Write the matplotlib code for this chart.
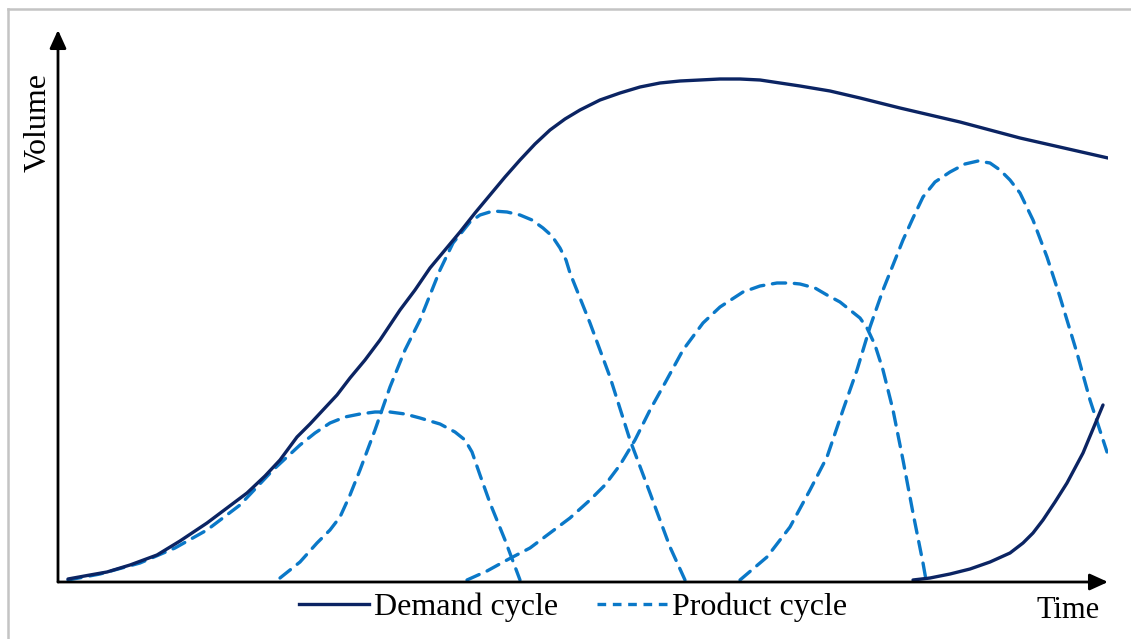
import matplotlib
matplotlib.use("Agg")
import matplotlib.pyplot as plt
from matplotlib.lines import Line2D

# ---- data (time, volume) ----
demand_t = [10, 32, 49, 72, 99, 122, 149, 169, 189, 207, 222, 239, 252, 265, 279, 292,
            307, 322, 342, 357, 372, 387, 402, 417, 432, 447, 462, 477, 492, 507, 522,
            542, 562, 582, 602, 622, 642, 662, 682, 702, 722, 742, 772, 802, 842, 902,
            962, 1050]
demand_v = [3, 7, 10, 17, 27, 41, 59, 74, 89, 106, 122, 145, 158, 172, 187, 204,
            222, 242, 272, 292, 314, 332, 350, 369, 387, 405, 422, 438, 452, 463, 472,
            482, 489, 495, 499, 501, 502, 503, 503, 502, 499, 496, 491, 484, 474, 460,
            444, 424]

demand2_t = [855, 872, 892, 912, 932, 952, 965, 975, 985, 997, 1009, 1025, 1045]
demand2_v = [2, 4, 8, 13, 20, 29, 39, 49, 62, 80, 99, 129, 177]

prod1_t = [10, 42, 82, 117, 149, 182, 215, 242, 257, 272, 287, 302, 317, 332, 347,
           362, 382, 397, 407, 414, 422, 432, 447, 462]
prod1_v = [2, 8, 19, 34, 52, 77, 112, 137, 149, 159, 165, 168, 170, 170, 168,
           164, 158, 150, 142, 130, 107, 79, 42, 2]

prod2_t = [222, 242, 259, 272, 282, 292, 302, 317, 332, 347, 362, 382, 395, 404, 412,
           422, 435, 449, 462, 474, 485, 494, 502, 508, 512, 532, 552, 572, 592, 612, 627]
prod2_v = [4, 20, 39, 52, 65, 87, 112, 152, 195, 232, 262, 312, 339, 350, 360,
           367, 371, 370, 367, 362, 354, 346, 334, 322, 309, 259, 205, 142, 89, 35, 2]

prod3_t = [409, 429, 449, 472, 492, 512, 532, 547, 562, 577, 592, 607, 625, 645, 662,
           685, 702, 719, 732, 742, 757, 769, 782, 792, 802, 809, 817, 825, 835, 845,
           855, 865, 868]
prod3_v = [2, 11, 22, 34, 49, 64, 82, 97, 117, 142, 172, 199, 232, 259, 275,
           290, 296, 299, 299, 298, 294, 287, 280, 272, 264, 254, 237, 212, 172, 122,
           69, 19, 2]

prod4_t = [682, 709, 732, 752, 769, 785, 799, 812, 825, 845, 855, 865, 877, 892, 907,
           920, 932, 942, 952, 962, 975, 989, 1002, 1019, 1032, 1049]
prod4_v = [2, 25, 55, 92, 125, 172, 212, 255, 292, 342, 364, 385, 400, 410, 418,
           421, 419, 412, 402, 389, 362, 325, 285, 229, 182, 130]

legend_labels = ["Demand cycle", "Product cycle"]
x_label = "Time"
y_label = "Volume"

NAVY = "#0b2463"
BLUE = "#0a78c8"

W, H = 1131, 639
fig = plt.figure(figsize=(W / 100, H / 100), dpi=100)
fig.patch.set_facecolor("white")

# axes placed so the axis lines sit at the reference positions
x0, x1 = 58, 1108
y0, y1 = 582, 30
ax = fig.add_axes([x0 / W, (H - y0) / H, (x1 - x0) / W, (y0 - y1) / H])
ax.set_xlim(0, x1 - x0)
ax.set_ylim(0, y0 - y1)
ax.axis("off")

lw = 2.4
dash = (4.0, 2.6)
ax.plot(demand_t, demand_v, color=NAVY, lw=lw, solid_capstyle="round", solid_joinstyle="round", zorder=3)
ax.plot(demand2_t, demand2_v, color=NAVY, lw=lw, solid_capstyle="round", solid_joinstyle="round", zorder=3)
for t, v in [(prod1_t, prod1_v), (prod2_t, prod2_v), (prod3_t, prod3_v), (prod4_t, prod4_v)]:
    ax.plot(t, v, color=BLUE, lw=lw, dashes=dash, dash_capstyle="round",
            dash_joinstyle="round", zorder=2)

# axis arrows
arrow = dict(arrowstyle="-|>,head_length=1.1,head_width=0.5", color="black", lw=2.0,
             shrinkA=0, shrinkB=0)
ax.annotate("", xy=(1.0, 0.0), xytext=(0.0, 0.0), xycoords="axes fraction",
            arrowprops=arrow, zorder=4, annotation_clip=False)
ax.annotate("", xy=(0.0, 1.0), xytext=(0.0, 0.0), xycoords="axes fraction",
            arrowprops=arrow, zorder=4, annotation_clip=False)

font = "Liberation Serif"
fig.text(1068 / W, 1 - 611 / H, x_label, fontsize=22, family=font, ha="center", va="center")
fig.text(38 / W, 1 - 122 / H, y_label, fontsize=23, family=font, ha="center", va="center",
         rotation=90)

handles = [Line2D([0], [0], color=NAVY, lw=lw),
           Line2D([0], [0], color=BLUE, lw=lw, dashes=(2.6, 2.0))]
fig.legend(handles, legend_labels, loc="center", bbox_to_anchor=(573 / W, 1 - 607 / H),
           ncol=2, frameon=False, prop={"family": font, "size": 23},
           handlelength=2.2, handletextpad=0.15, columnspacing=1.2, borderpad=0)

# light grey frame (top and left edges)
fig.add_artist(Line2D([8 / W, 1.0], [1 - 9 / H, 1 - 9 / H], color="#c4c4c4", lw=1.8,
                      transform=fig.transFigure))
fig.add_artist(Line2D([8 / W, 8 / W], [0.0, 1 - 9 / H], color="#c4c4c4", lw=1.8,
                      transform=fig.transFigure))

fig.savefig("out.png", dpi=100, facecolor="white")
